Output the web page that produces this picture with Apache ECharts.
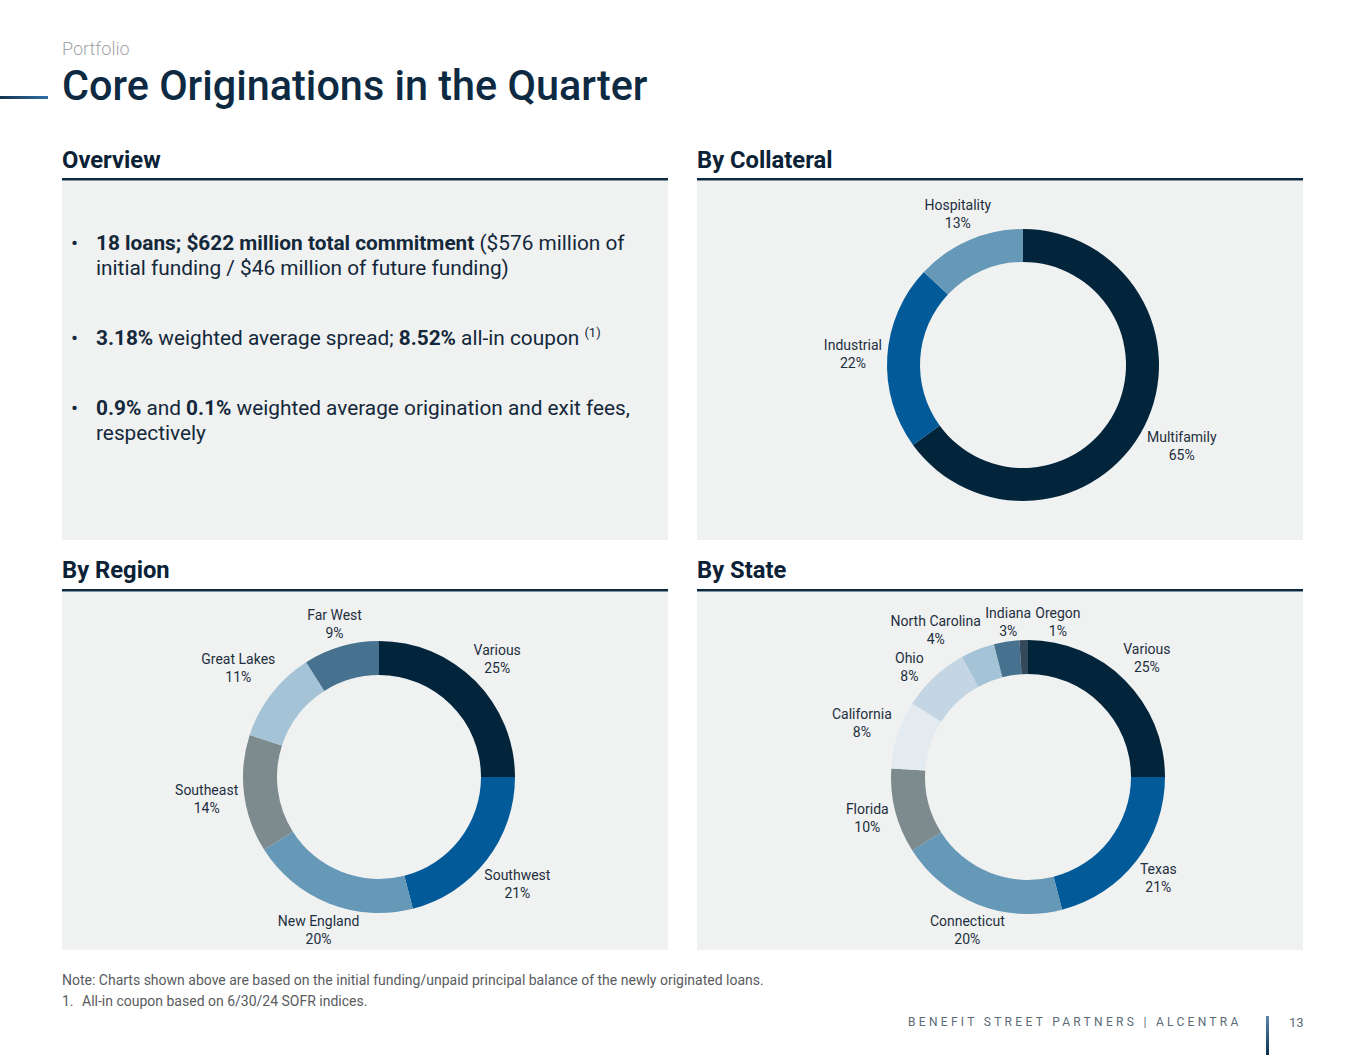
<!DOCTYPE html>
<html><head><meta charset="utf-8">
<script src="https://cdn.jsdelivr.net/npm/echarts@6/dist/echarts.min.js"></script>
<style>html,body{margin:0;padding:0;background:#fff}#c{width:1365px;height:1055px}</style>
</head><body><div id="c"></div>
<script>
// ---- data ----
const collateralNames = ['Multifamily', 'Industrial', 'Hospitality'];
const collateralValues = [65, 22, 13];
const regionNames = ['Various', 'Southwest', 'New England', 'Southeast', 'Great Lakes', 'Far West'];
const regionValues = [25, 21, 20, 14, 11, 9];
const stateNames = ['Various', 'Texas', 'Connecticut', 'Florida', 'California', 'Ohio', 'North Carolina', 'Indiana', 'Oregon'];
const stateValues = [25, 21, 20, 10, 8, 8, 4, 3, 1];

// ---- styles ----
const collateralColors = ['#03253c', '#025a99', '#6698b7'];
const regionColors = ['#03253c', '#025a99', '#6698b7', '#7d8b8e', '#a5c3d6', '#467290'];
const stateColors = ['#03253c', '#025a99', '#6698b7', '#7d8b8e', '#e3eaf0', '#c4d6e3', '#a5c3d6', '#467290', '#34495a'];
const FONT = 'Roboto, "Noto Sans", sans-serif';
const NAVY = '#0c2a40';
const TEXT = '#13283a';
const PANEL = '#f0f1f1';
const LABEL_SIZE = 14, LABEL_LH = 18;

// Place each two-line label just outside the ring at its slice's mid-angle,
// then spread neighbouring labels apart angularly if they collide.
function placeLabels(names, values, cx, cy, R, gap) {
  const ctx = document.createElement('canvas').getContext('2d');
  ctx.font = LABEL_SIZE + 'px Roboto';
  const total = values.reduce((a, b) => a + b, 0);
  let acc = 0;
  const items = values.map((v, i) => {
    const ang = (acc + v / 2) / total * 2 * Math.PI; acc += v;
    const w = Math.max(ctx.measureText(names[i]).width, ctx.measureText(v + '%').width) + 2;
    return { ang, w, h: 2 * LABEL_LH - 8 };
  });
  const pos = it => {
    const dx = Math.sin(it.ang), dy = -Math.cos(it.ang);
    const hw = it.w / 2, hh = it.h / 2, target = R + gap;
    let lo = 0, hi = R + gap + hw + hh + 10;
    for (let k = 0; k < 40; k++) {
      const d = (lo + hi) / 2;
      const nx = Math.max(Math.abs(dx * d) - hw, 0), ny = Math.max(Math.abs(dy * d) - hh, 0);
      if (Math.hypot(nx, ny) < target) lo = d; else hi = d;
    }
    return [cx + dx * hi, cy + dy * hi];
  };
  const overlap = (a, b) => {
    const p = pos(a), q = pos(b);
    return Math.abs(p[0] - q[0]) < (a.w + b.w) / 2 + 2 && Math.abs(p[1] - q[1]) < (a.h + b.h) / 2 + 9;
  };
  for (let k = 0; k < 800; k++) {
    let moved = false;
    for (let i = 0; i < items.length; i++) {
      const a = items[i], b = items[(i + 1) % items.length];
      if (a !== b && overlap(a, b)) { a.ang -= 0.003; b.ang += 0.003; moved = true; }
    }
    if (!moved) break;
  }
  return items.map(pos);
}

function donut(names, values, colors, cx, cy, r0, r1) {
  const placed = placeLabels(names, values, cx, cy, r1, 4);
  return {
    type: 'pie', center: [cx, cy], radius: [r0, r1], startAngle: 90, clockwise: true,
    avoidLabelOverlap: false, silent: true, z: 5,
    data: names.map((n, i) => ({ name: n, value: values[i], itemStyle: { color: colors[i] } })),
    label: { show: true, position: 'outside', formatter: '{b}\n{c}%', fontFamily: FONT,
      fontSize: LABEL_SIZE, lineHeight: LABEL_LH, color: '#1e2f3e' },
    labelLine: { show: false },
    labelLayout: p => ({ x: placed[p.dataIndex][0], y: placed[p.dataIndex][1], align: 'center', verticalAlign: 'middle' })
  };
}

function txt(x, y, text, opt, extra) {
  return Object.assign({ type: 'text', x, y, silent: true, z: 2,
    style: Object.assign({ text, fontFamily: FONT, fontSize: 13, fill: TEXT, align: 'left', verticalAlign: 'middle' }, opt) }, extra || {});
}
function rect(x, y, w, h, fill) {
  return { type: 'rect', silent: true, z: 1, shape: { x, y, width: w, height: h }, style: { fill } };
}
const grad = (x2, y2, c1, c2) => new echarts.graphic.LinearGradient(0, 0, x2, y2, [{ offset: 0, color: c1 }, { offset: 1, color: c2 }]);

const BODY = 20.8;
const bodyRich = {
  b: { fontFamily: FONT, fontSize: BODY, fontWeight: 'bold', fill: TEXT, lineHeight: 25 },
  s: { fontFamily: FONT, fontSize: 13, fill: TEXT, lineHeight: 13, verticalAlign: 'top' }
};
const body = (x, y, t) => txt(x, y, t, { fontSize: BODY, lineHeight: 25, rich: bodyRich });
const head = (x, y, t) => txt(x, y, t, { fontSize: 24, fontWeight: 'bold', fill: '#0b2236' }, { scaleX: 0.99 });
const note = { fontSize: 14, fill: '#595b5e' };

const elements = [
  // panels
  rect(62, 181, 606, 359, PANEL), rect(697, 181, 606, 359, PANEL),
  rect(62, 592, 606, 358, PANEL), rect(697, 592, 606, 358, PANEL),
  // header rules
  rect(62, 178, 606, 2.5, NAVY), rect(697, 178, 606, 2.5, NAVY),
  rect(62, 589, 606, 2.5, NAVY), rect(697, 589, 606, 2.5, NAVY),
  // top accent
  rect(0, 96, 48, 3, grad(1, 0, '#14324d', '#2f70a8')),
  // titles
  txt(62, 48, 'Portfolio', { fontSize: 18, fontWeight: 300, fill: '#a3a6a9' }),
  txt(62, 85, 'Core Originations in the Quarter', { fontSize: 42, fontWeight: 500, fill: '#0d2a42' }, { scaleX: 0.985 }),
  head(62, 160, 'Overview'), head(697, 160, 'By Collateral'),
  head(62, 570, 'By Region'), head(697, 570, 'By State'),
  // overview bullets
  txt(71, 243, '•', { fontSize: 21 }), txt(71, 338, '•', { fontSize: 21 }), txt(71, 408, '•', { fontSize: 21 }),
  body(96, 243, '{b|18 loans; $622 million total commitment} ($576 million of'),
  body(96, 268, 'initial funding / $46 million of future funding)'),
  body(96, 338, '{b|3.18%} weighted average spread; {b|8.52%} all-in coupon {s|(1)}'),
  body(96, 408, '{b|0.9%} and {b|0.1%} weighted average origination and exit fees,'),
  body(96, 433, 'respectively'),
  // footnotes
  txt(62, 980, 'Note: Charts shown above are based on the initial funding/unpaid principal balance of the newly originated loans.', note),
  txt(62, 1001, '1.', note),
  txt(82, 1001, 'All-in coupon based on 6/30/24 SOFR indices.', note),
  txt(908, 1022, 'BENEFIT STREET PARTNERS | ALCENTRA', { fontSize: 12, fill: '#5b6b78' }),
  rect(1266, 1016, 3, 39, grad(0, 1, '#5b86ad', '#0d2f52')),
  txt(1289, 1022, '13', { fontSize: 13, fill: '#5b6b78' })
];

const chart = echarts.init(document.getElementById('c'), null, { renderer: 'svg' });
chart.setOption({
  animation: false,
  backgroundColor: '#ffffff',
  graphic: { elements },
  series: [
    donut(collateralNames, collateralValues, collateralColors, 1023, 365, 103, 136),
    donut(regionNames, regionValues, regionColors, 379, 777, 102, 136),
    donut(stateNames, stateValues, stateColors, 1028, 777, 103, 137)
  ]
});
function spaceBrand() {
  document.querySelectorAll('#c text').forEach(t => {
    if (t.textContent.indexOf('BENEFIT') === 0) t.style.letterSpacing = '3.3px';
  });
}
spaceBrand();
chart.on('finished', spaceBrand);
setTimeout(spaceBrand, 50);
</script></body></html>
